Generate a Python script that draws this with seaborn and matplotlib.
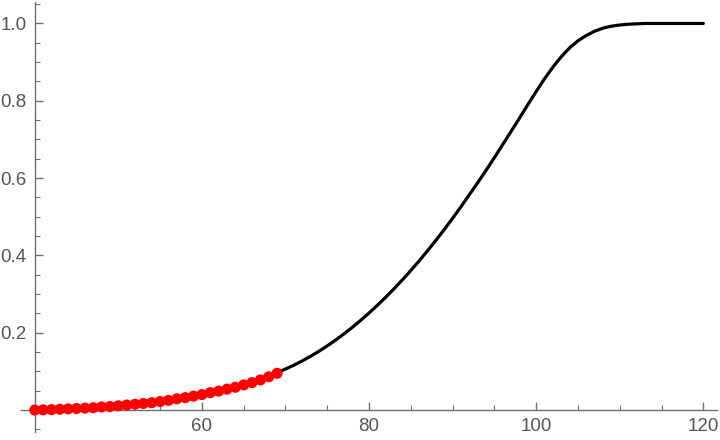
import numpy as np
import pandas as pd
import seaborn as sns
import matplotlib.pyplot as plt
from matplotlib.ticker import MultipleLocator, FixedLocator

# fitted curve
curve_x = [40, 42, 44, 46, 48, 50, 52, 54, 56, 58, 60, 62, 64, 66, 68,
           69, 70, 71, 72, 73, 74, 75, 76, 77, 78, 79, 80, 81, 82, 83, 84,
           85, 86, 87, 88, 89, 90, 91, 92, 93, 94, 95, 96, 97, 98, 99, 100,
           101, 102, 103, 104, 105, 106, 107, 108, 109, 110, 111, 112, 113,
           114, 120]
curve_y = [0.000, 0.002, 0.004, 0.006, 0.009, 0.012, 0.016, 0.021, 0.027,
           0.034, 0.041, 0.050, 0.060, 0.073, 0.088,
           0.097, 0.106, 0.116, 0.127, 0.139, 0.152, 0.166, 0.181, 0.197,
           0.214, 0.232, 0.251, 0.271, 0.292, 0.314, 0.337, 0.361, 0.386,
           0.412, 0.439, 0.467, 0.496, 0.526, 0.557, 0.588, 0.620, 0.653,
           0.687, 0.721, 0.755, 0.790, 0.824, 0.857, 0.887, 0.914, 0.937,
           0.955, 0.969, 0.980, 0.988, 0.993, 0.996, 0.998, 0.999, 1.000,
           1.000, 1.000]

# observed points
obs_x = list(range(40, 70))
obs_y = [0.000, 0.0005, 0.001, 0.002, 0.003, 0.004, 0.005, 0.006, 0.008,
         0.009, 0.011, 0.013, 0.015, 0.017, 0.019, 0.022, 0.025, 0.029,
         0.032, 0.036, 0.040, 0.045, 0.049, 0.054, 0.059, 0.065, 0.071,
         0.078, 0.086, 0.095]

x_major = [60, 80, 100, 120]
y_major = [0.2, 0.4, 0.6, 0.8, 1.0]

curve_df = pd.DataFrame({'x': curve_x, 'y': curve_y})
obs_df = pd.DataFrame({'x': obs_x, 'y': obs_y})

sns.set_style('white')
plt.rcParams['font.family'] = ['Liberation Sans', 'DejaVu Sans']

axis_col = '#6f6f6f'
text_col = '#555555'

fig = plt.figure(figsize=(7.2, 4.4), dpi=100)
ax = fig.add_axes([0.0297, 0.018, 0.9657, 0.977])

sns.lineplot(data=curve_df, x='x', y='y', color='black', linewidth=2.3, ax=ax)
sns.scatterplot(data=obs_df, x='x', y='y', color='#ff0000', s=64,
                edgecolor='none', ax=ax, zorder=3)

ax.set_xlim(38.4, 121.6)
ax.set_ylim(-0.057, 1.055)

ax.spines['top'].set_visible(False)
ax.spines['right'].set_visible(False)
ax.spines['left'].set_position(('data', 40))
ax.spines['bottom'].set_position(('data', 0))
for s in ['left', 'bottom']:
    ax.spines[s].set_color(axis_col)
    ax.spines[s].set_linewidth(1.0)

ax.xaxis.set_major_locator(FixedLocator(x_major))
ax.xaxis.set_minor_locator(MultipleLocator(5))
ax.yaxis.set_major_locator(FixedLocator(y_major))
ax.yaxis.set_minor_locator(MultipleLocator(0.05))
ax.set_xticklabels([str(v) for v in x_major])
ax.set_yticklabels([f'{v:.1f}' for v in y_major])

ax.tick_params(which='both', direction='in', colors=axis_col, labelcolor=text_col,
               labelsize=13.5, bottom=True, left=True)
ax.tick_params(which='major', length=6, width=1.0, pad=6)
ax.tick_params(which='minor', length=3.5, width=0.8)

ax.set_xlabel('')
ax.set_ylabel('')

plt.savefig('out.png', dpi=100)
